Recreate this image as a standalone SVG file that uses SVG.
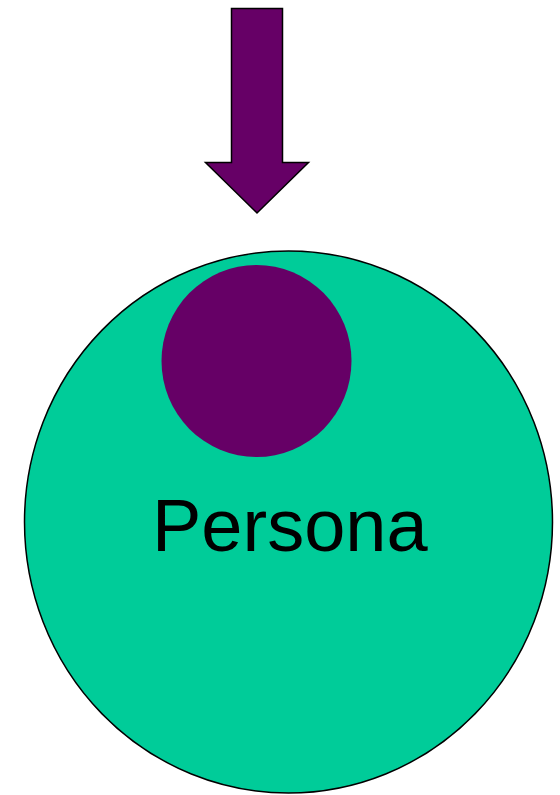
<svg xmlns="http://www.w3.org/2000/svg" width="560" height="795" viewBox="0 0 560 795">
  <style>
    .purple { fill: #660066; }
    .teal { fill: #00CC99; stroke: #000000; stroke-width: 1.5; }
    .label { font-family: "Liberation Sans", Arial, sans-serif; font-size: 74px; fill: #000000; }
  </style>
  <rect width="560" height="795" fill="#FFFFFF"/>
  <g id="arrow">
    <polygon class="purple" stroke="#000000" stroke-width="1.5" stroke-linejoin="miter" points="231.5,8.5 282.5,8.5 282.5,162.5 308.5,162.5 257,213 205.5,162.5 231.5,162.5"/>
  </g>
  <g id="persona">
    <ellipse class="teal" cx="288.5" cy="522" rx="264" ry="271"/>
    <ellipse id="core" class="purple" cx="256.5" cy="361" rx="95" ry="96"/>
    <text class="label" x="152" y="551">Persona</text>
  </g>
</svg>
